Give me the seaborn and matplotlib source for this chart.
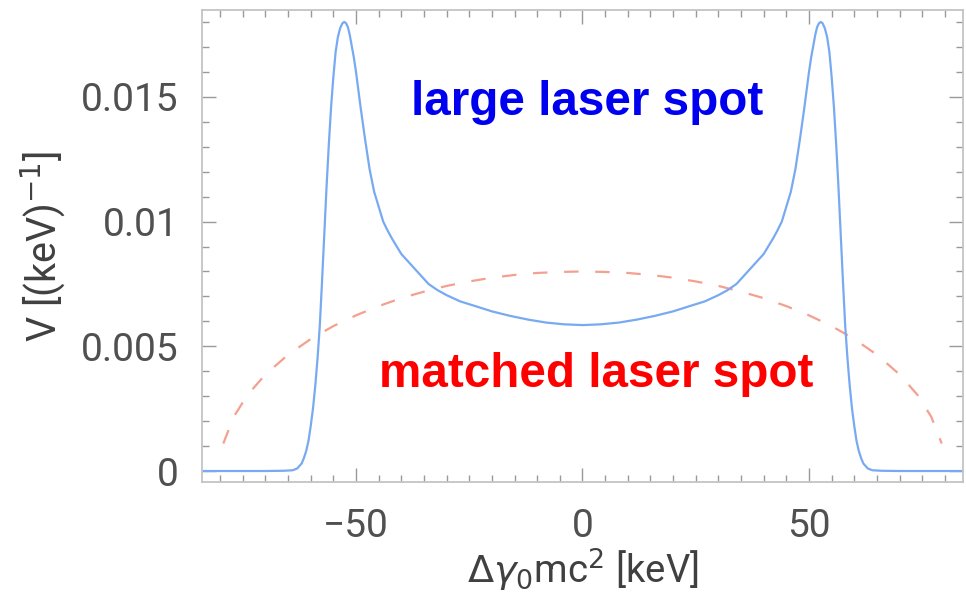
import matplotlib
matplotlib.use("Agg")
import matplotlib.pyplot as plt
from matplotlib.ticker import MultipleLocator
import numpy as np
import pandas as pd
import seaborn as sns

# large laser spot
x_large = [-84, -70, -66, -64, -63, -62, -61.5, -61, -60.5, -60, -59.5, -59, -58.5, -58, -57.5,
           -57, -56.5, -56, -55.5, -55, -54.5, -54, -53.5, -53, -52.6, -52.2, -51.8, -51.4,
           -51, -50.5, -50, -49.5, -49, -48, -47, -46, -45, -44, -43, -42, -40, -38, -36,
           -34, -32, -30, -27, -24, -20, -16, -12, -8, -4, 0,
           4, 8, 12, 16, 20, 24, 27, 30, 32, 34, 36, 38, 40, 42, 43, 44, 45, 46, 47, 48, 49,
           49.5, 50, 50.5, 51, 51.4, 51.8, 52.2, 52.6, 53, 53.5, 54, 54.5, 55, 55.5, 56, 56.5,
           57, 57.5, 58, 58.5, 59, 59.5, 60, 60.5, 61, 61.5, 62, 63, 64, 66, 70, 84]
y_large = [0, 0, 0.00001, 0.00003, 0.0001, 0.0003, 0.00052, 0.0008, 0.0012, 0.0018, 0.0025,
           0.0034, 0.0045, 0.0058, 0.0076,
           0.0095, 0.0114, 0.0131, 0.0146, 0.0158, 0.0168, 0.0174, 0.01775, 0.01795, 0.0180,
           0.01795, 0.0178, 0.0175,
           0.0171, 0.0166, 0.0160, 0.0153, 0.0146, 0.0133, 0.0121, 0.0112, 0.0106, 0.0100,
           0.00963, 0.0093, 0.0087, 0.0083, 0.0079,
           0.0075, 0.00725, 0.00705, 0.0068, 0.00663, 0.00640, 0.00622, 0.00607, 0.00595,
           0.00588, 0.00585,
           0.00588, 0.00595, 0.00607, 0.00622, 0.00640, 0.00663, 0.0068, 0.00705, 0.00725,
           0.0075, 0.0079, 0.0083, 0.0087, 0.0093, 0.00963, 0.0100, 0.0106, 0.0112, 0.0121,
           0.0133, 0.0146,
           0.0153, 0.0160, 0.0166, 0.0171, 0.0175, 0.0178, 0.01795, 0.0180, 0.01795, 0.01775,
           0.0174, 0.0168, 0.0158, 0.0146, 0.0131, 0.0114,
           0.0095, 0.0076, 0.0058, 0.0045, 0.0034, 0.0025, 0.0018, 0.0012, 0.0008, 0.00052,
           0.0003, 0.0001, 0.00003, 0.00001, 0, 0]

# matched laser spot
x_matched = [-79.3, -77, -74, -70, -65, -60, -55, -50, -45, -40, -35, -30, -25, -20, -15, -10, -5, 0,
             5, 10, 15, 20, 25, 30, 35, 40, 45, 50, 55, 60, 65, 70, 74, 77, 79.3]
y_matched = [0.0011, 0.00217, 0.00304, 0.00387, 0.00466, 0.00529, 0.00581, 0.00624, 0.00661,
             0.00693, 0.00719, 0.00742, 0.0076, 0.00775, 0.00786, 0.00794, 0.00798, 0.0080,
             0.00798, 0.00794, 0.00786, 0.00775, 0.0076, 0.00742, 0.00719, 0.00693, 0.00661,
             0.00624, 0.00581, 0.00529, 0.00466, 0.00387, 0.00304, 0.00217, 0.0011]

xticks = [-50, 0, 50]
xtick_labels = ["\u221250", "0", "50"]
yticks = [0, 0.005, 0.01, 0.015]
ytick_labels = ["0", "0.005", "0.01", "0.015"]

df_large = pd.DataFrame({"x": x_large, "y": y_large})
df_matched = pd.DataFrame({"x": x_matched, "y": y_matched})

sns.set_theme(style="ticks")
plt.rcParams["font.family"] = ["Roboto", "DejaVu Sans"]
plt.rcParams["mathtext.fontset"] = "dejavusans"

fig = plt.figure(figsize=(9.66, 6.04), dpi=100)
ax = fig.add_axes([0.2091, 0.2020, 0.7878, 0.7814])

sns.lineplot(data=df_matched, x="x", y="y", ax=ax, color="#f4a08f", lw=1.6,
             linestyle=(0, (6.5, 7.5)), sort=False)
sns.lineplot(data=df_large, x="x", y="y", ax=ax, color="#78aaf2", lw=1.6, sort=False)

ax.set_xlim(-84, 84)
ax.set_ylim(-0.00044, 0.01848)

ax.set_xticks(xticks)
ax.set_xticklabels(xtick_labels)
ax.set_yticks(yticks)
ax.set_yticklabels(ytick_labels)
ax.xaxis.set_minor_locator(MultipleLocator(5))
ax.yaxis.set_minor_locator(MultipleLocator(0.001))

gray = "#999999"
for s in ax.spines.values():
    s.set_color("#c4c4c4")
    s.set_linewidth(1.3)
ax.tick_params(which="both", direction="in", top=True, right=True, color=gray, width=1.0,
               labelsize=28, labelcolor="#505050")
ax.tick_params(which="major", length=10)
ax.tick_params(which="minor", length=5)
ax.tick_params(axis="x", which="major", pad=19)
ax.tick_params(axis="y", which="major", pad=17)

ax.set_xlabel(r"$\Delta\gamma_0$mc$^2$ [keV]", fontsize=27.5, color="#404040", labelpad=1)
ax.set_ylabel(r"V [(keV)$^{-1}$]", fontsize=28.5, color="#404040", labelpad=9)

ax.text(1.0, 0.01427, "large laser spot", color="#0000f0", fontsize=34.3,
        fontweight="bold", family=["Liberation Sans", "DejaVu Sans"], ha="center",
        va="baseline")
ax.text(3.0, 0.00338, "matched laser spot", color="#ff0000", fontsize=34.3,
        fontweight="bold", family=["Liberation Sans", "DejaVu Sans"], ha="center",
        va="baseline")

fig.savefig("out.png", dpi=100)
